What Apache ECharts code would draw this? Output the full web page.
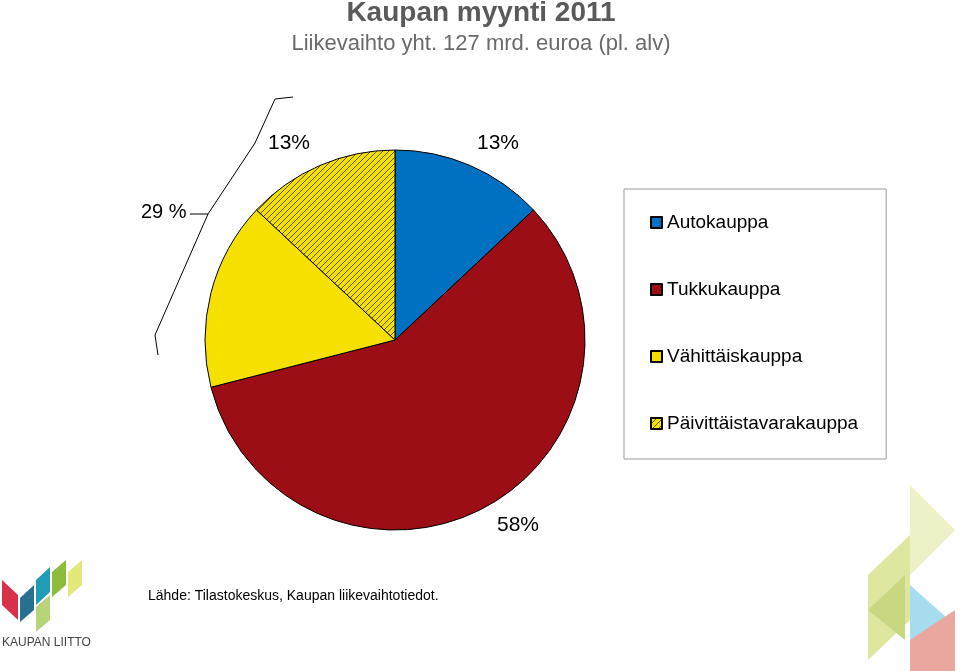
<!DOCTYPE html>
<html><head><meta charset="utf-8">
<script src="https://cdn.jsdelivr.net/npm/echarts@6/dist/echarts.min.js"></script>
<style>html,body{margin:0;background:#fff}#c{width:960px;height:671px}</style>
</head><body><div id="c"></div>
<script>
// data
const categories = ['Autokauppa', 'Tukkukauppa', 'Vähittäiskauppa', 'Päivittäistavarakauppa']
const shares = [13, 58, 16, 13]
const colors = ['#0070c0', '#9b0e15', '#f5e000', null]

// hatch pattern for Päivittäistavarakauppa
const hatch = document.createElement('canvas')
hatch.width = 6; hatch.height = 6
const hc = hatch.getContext('2d')
hc.fillStyle = '#f5e000'; hc.fillRect(0, 0, 6, 6)
hc.strokeStyle = '#5a5520'; hc.lineWidth = 1
hc.beginPath(); hc.moveTo(0, 6); hc.lineTo(6, 0); hc.moveTo(-3, 3); hc.lineTo(3, -3); hc.moveTo(3, 9); hc.lineTo(9, 3); hc.stroke()
const hatchFill = { image: hatch, repeat: 'repeat' }

const chart = echarts.init(document.getElementById('c'))

const txt = (x, y, t, size, fill) => ({
  type: 'text', left: x, top: y,
  style: { text: t, font: size + 'px Arial, "Liberation Sans"', fill: fill || '#000' }
})

chart.setOption({
  title: {
    text: 'Kaupan myynti 2011',
    subtext: 'Liikevaihto yht. 127 mrd. euroa (pl. alv)',
    left: 476, top: -6, textAlign: 'center',
    textStyle: { fontFamily: 'Arial', fontSize: 28, fontWeight: 'bold', color: '#5a5a5a' },
    subtextStyle: { fontFamily: 'Arial', fontSize: 22, color: '#6a6a6a' },
    itemGap: 6
  },
  legend: {
    orient: 'vertical', left: 624, top: 189,
    padding: [24, 28, 26, 26], itemGap: 48,
    borderColor: '#999', borderWidth: 1,
    itemWidth: 11, itemHeight: 11, icon: 'rect',
    textStyle: { fontFamily: 'Arial', fontSize: 19, color: '#000' },
    data: categories
  },
  series: [{
    type: 'pie', center: [395, 340], radius: 190, startAngle: 90,
    clockwise: true, label: { show: false }, silent: true,
    itemStyle: { borderColor: '#000', borderWidth: 1 },
    data: categories.map((n, i) => ({ name: n, value: shares[i], itemStyle: { color: colors[i] || hatchFill } }))
  }],
  graphic: [
    txt(268, 133, shares[3] + '%', 21),
    txt(477, 133, shares[0] + '%', 21),
    txt(497, 515, shares[1] + '%', 21),
    txt(141, 202, (shares[2] + shares[3]) + ' %', 20),
    txt(148, 589, 'Lähde: Tilastokeskus, Kaupan liikevaihtotiedot.', 14),
    { type: 'polyline', shape: { points: [[293, 97], [275, 99], [255, 143], [208, 214], [190, 214]] }, style: { stroke: '#000', fill: null, lineWidth: 1 } },
    { type: 'polyline', shape: { points: [[208, 214], [155, 335], [158, 355]] }, style: { stroke: '#000', fill: null, lineWidth: 1 } },
    // logo left
    { type: 'polygon', shape: { points: [[2, 580], [18, 595], [18, 620], [2, 605]] }, style: { fill: '#d9304b' } },
    { type: 'polygon', shape: { points: [[20, 598], [34, 585], [34, 610], [20, 622]] }, style: { fill: '#2a6f8f' } },
    { type: 'polygon', shape: { points: [[36, 580], [50, 567], [50, 592], [36, 605]] }, style: { fill: '#1f9db5' } },
    { type: 'polygon', shape: { points: [[52, 572], [66, 560], [66, 585], [52, 597]] }, style: { fill: '#8dbb3a' } },
    { type: 'polygon', shape: { points: [[68, 572], [82, 560], [82, 585], [68, 597]] }, style: { fill: '#e4e87a' } },
    { type: 'polygon', shape: { points: [[36, 607], [50, 595], [50, 620], [36, 632]] }, style: { fill: '#b8d47a' } },
    txt(2, 637, 'KAUPAN LIITTO', 12, '#444'),
    // decoration right
    { type: 'polygon', shape: { points: [[910, 485], [955, 530], [910, 575]] }, style: { fill: '#eef0c8' } },
    { type: 'polygon', shape: { points: [[868, 575], [910, 535], [910, 620], [868, 660]] }, style: { fill: '#dfe6a0' } },
    { type: 'polygon', shape: { points: [[910, 585], [955, 625], [955, 671], [910, 640]] }, style: { fill: '#a8dcef' } },
    { type: 'polygon', shape: { points: [[910, 640], [955, 610], [955, 671], [910, 671]] }, style: { fill: '#e9a7a0' } },
    { type: 'polygon', shape: { points: [[868, 610], [905, 575], [905, 640]] }, style: { fill: '#c9d780' } }
  ]
})
</script></body></html>
